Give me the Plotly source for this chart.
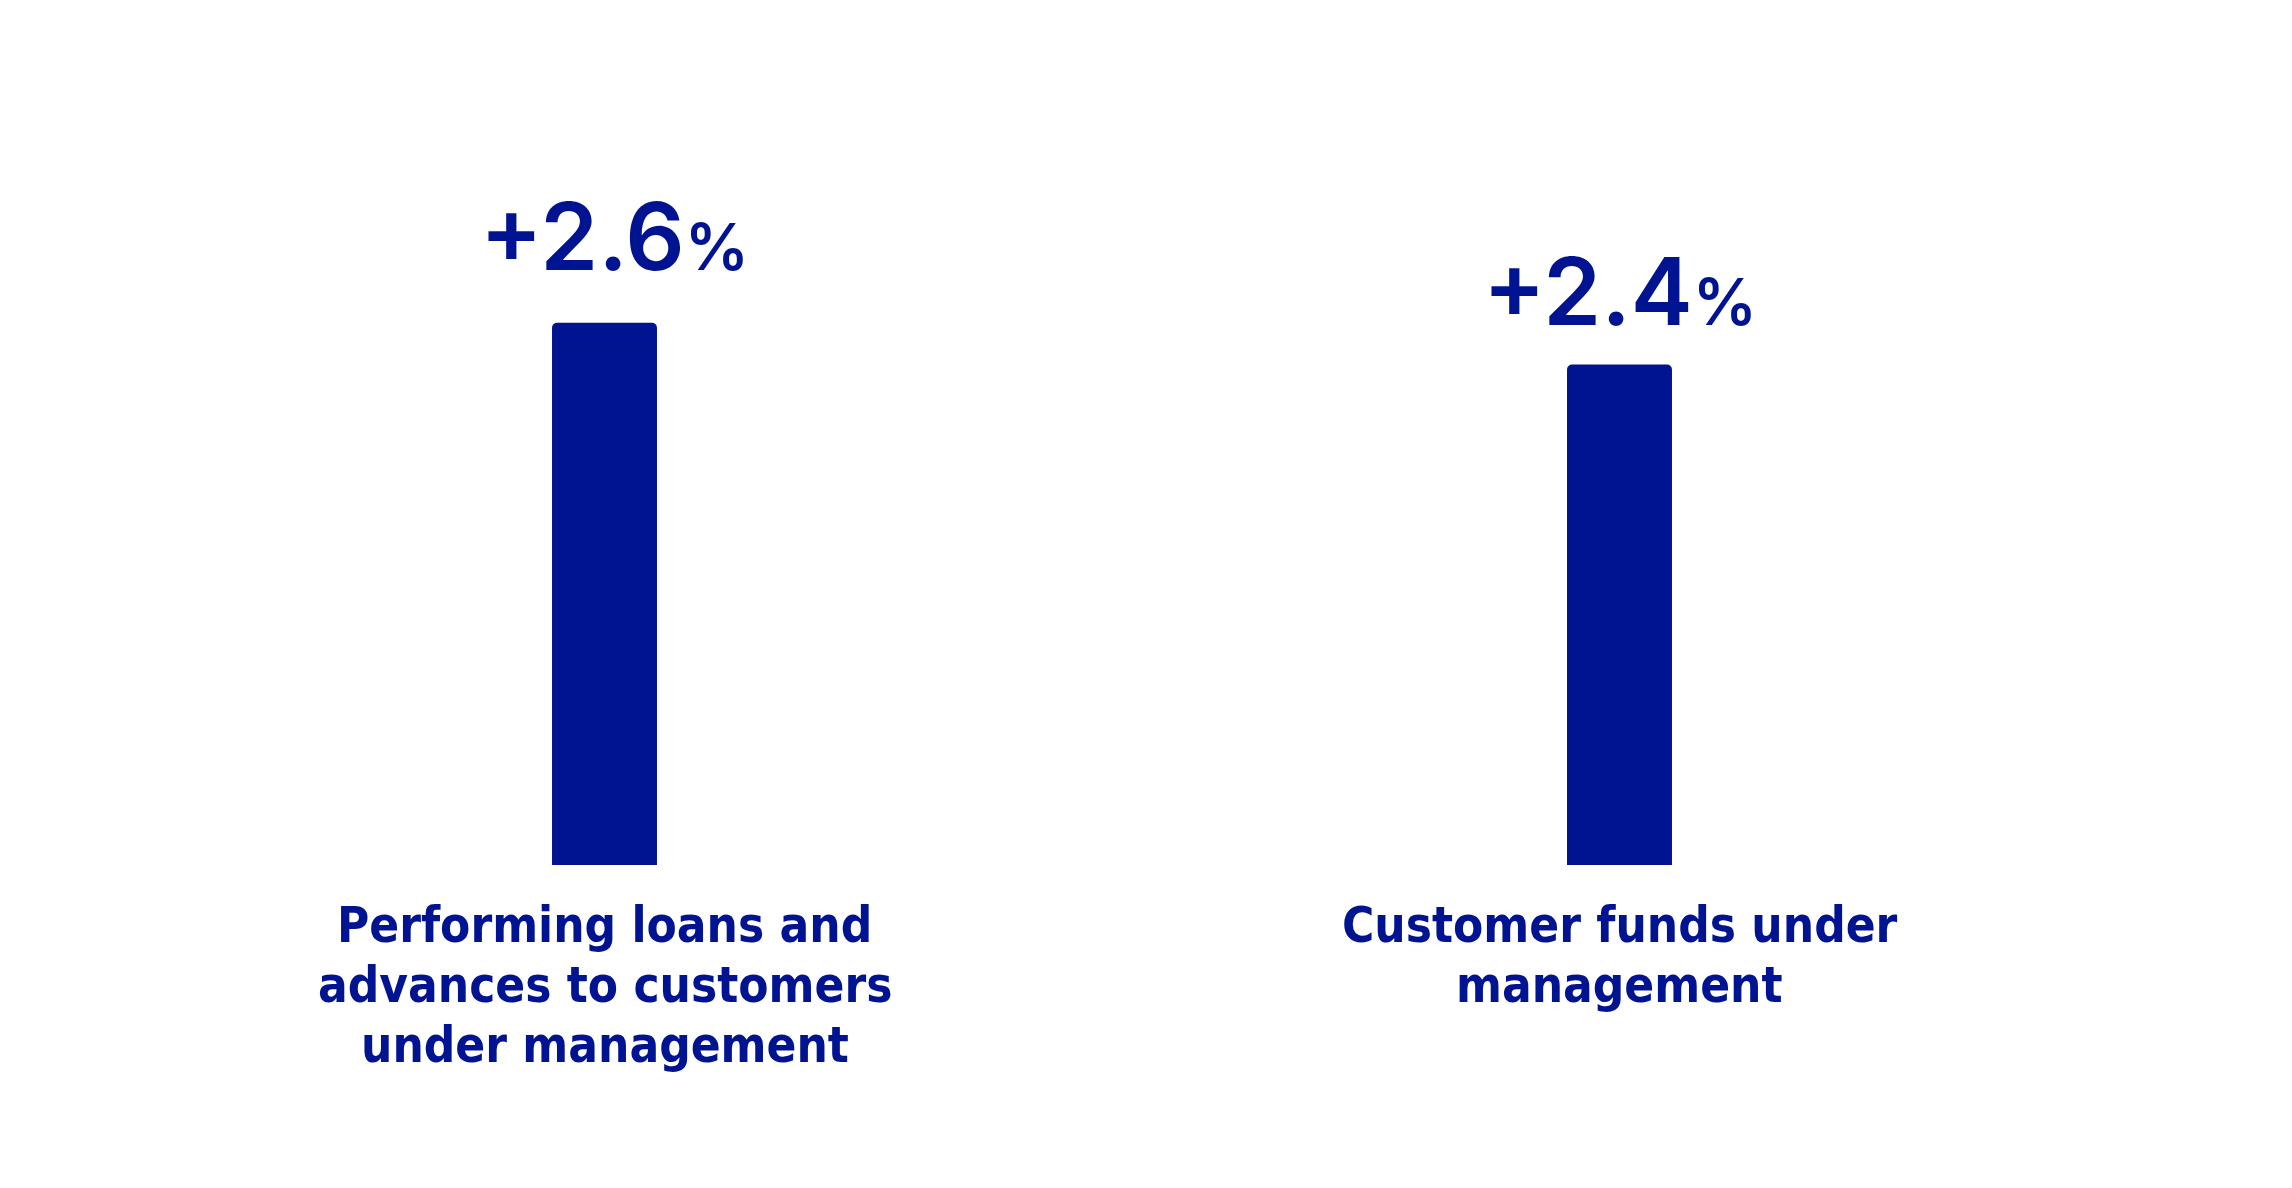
import plotly.graph_objects as go

categories = ["Performing loans and<br>advances to customers<br>under management",
              "Customer funds under<br>management"]
values = [2.6, 2.4]

NAVY = "#001391"
W, H = 2292, 1188

fig = go.Figure()
fig.add_trace(go.Bar(
    x=[0, 1], y=values,
    width=0.1034,
    marker=dict(color=NAVY, cornerradius=5, line=dict(width=0)),
    hoverinfo="skip",
))

# value labels
label_dy = [29, 16]
label_dx = [10, 0]
for i, v in enumerate(values):
    fig.add_annotation(
        x=i, y=v, xref="x", yref="y",
        text=f"+{v:.1f}<span style='font-size:64px'>%</span>",
        showarrow=False, yanchor="bottom", xanchor="center",
        yshift=label_dy[i], xshift=label_dx[i],
        font=dict(family="Inter, Lato, sans-serif", size=93, color=NAVY, weight=600),
    )

# category labels, line by line
for i, cat in enumerate(categories):
    for j, line in enumerate(cat.split("<br>")):
        fig.add_annotation(
            x=i, y=0, xref="x", yref="paper",
            text=f"<b>{line}</b>",
            showarrow=False, yanchor="top", xanchor="center",
            yshift=-30 - 60 * j,
            font=dict(family="'DejaVu Sans Condensed', 'DejaVu Sans', sans-serif",
                      size=49, color=NAVY),
        )

fig.update_layout(
    width=W, height=H,
    margin=dict(l=89, r=173, t=93, b=331, pad=0),
    paper_bgcolor="white", plot_bgcolor="white",
    showlegend=False,
    xaxis=dict(range=[-0.5, 1.5], showticklabels=False, showgrid=False,
               zeroline=False, showline=False, ticks=""),
    yaxis=dict(range=[0, 3.664], showticklabels=False, showgrid=False,
               zeroline=False, showline=False, ticks=""),
)

fig.write_html("out.html", config={"displayModeBar": False})
